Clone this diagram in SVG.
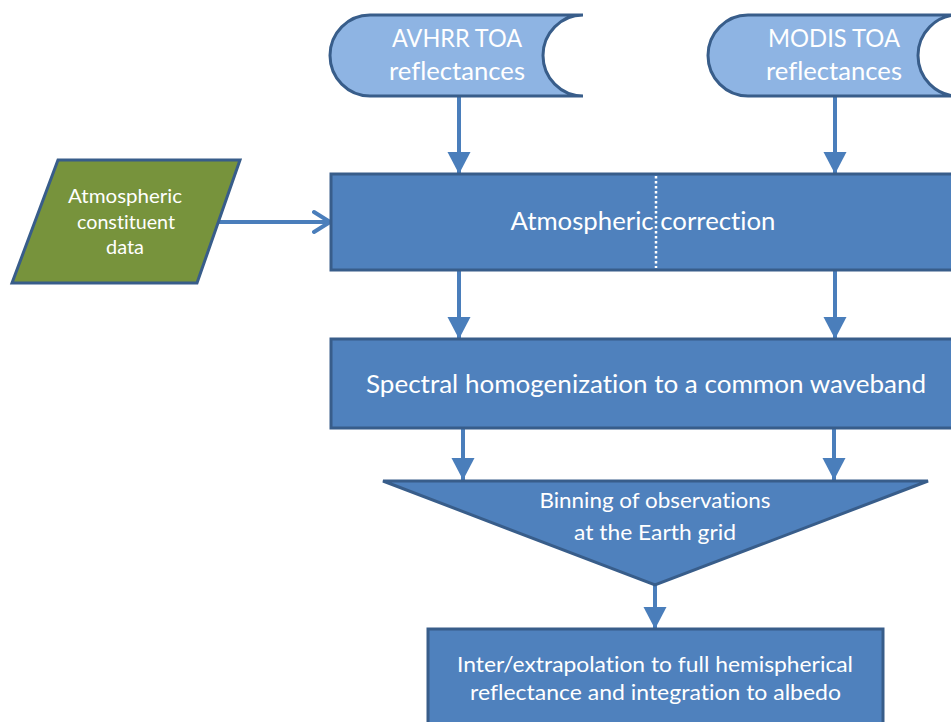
<svg xmlns="http://www.w3.org/2000/svg" width="951" height="722" viewBox="0 0 951 722">
<style>
.box{fill:#4f81bd;stroke:#385d8a;stroke-width:3}
.store{fill:#8eb4e3;stroke:#385d8a;stroke-width:3}
.para{fill:#77933c;stroke:#385d8a;stroke-width:3}
.t{font-family:Lato,"Liberation Sans",sans-serif;fill:#ffffff;text-anchor:middle;font-variant-ligatures:none}
.conn{stroke:#4a7ebb;stroke-width:4;fill:none}
</style>
<defs>
<marker id="tri" markerUnits="userSpaceOnUse" markerWidth="24" markerHeight="24" refX="22" refY="11.5" orient="auto">
<path d="M0,0 L22,11.5 L0,23 Z" fill="#4a7ebb"/>
</marker>
<marker id="open" markerUnits="userSpaceOnUse" markerWidth="24" markerHeight="26" refX="18" refY="13" orient="auto">
<path d="M2,3 L18,13 L2,23" fill="none" stroke="#4a7ebb" stroke-width="4" stroke-linecap="round" stroke-linejoin="round"/>
</marker>
</defs>
<rect width="951" height="722" fill="#ffffff"/>
<g id="connectors">
<line class="conn" x1="459" y1="96" x2="459" y2="174" marker-end="url(#tri)"/>
<line class="conn" x1="835" y1="96" x2="835" y2="174" marker-end="url(#tri)"/>
<line class="conn" x1="219" y1="222" x2="330" y2="222" marker-end="url(#open)"/>
<line class="conn" x1="459" y1="271" x2="459" y2="339" marker-end="url(#tri)"/>
<line class="conn" x1="835" y1="271" x2="835" y2="339" marker-end="url(#tri)"/>
<line class="conn" x1="463" y1="429" x2="463" y2="480" marker-end="url(#tri)"/>
<line class="conn" x1="834" y1="429" x2="834" y2="480" marker-end="url(#tri)"/>
<line class="conn" x1="655" y1="584" x2="655" y2="629" marker-end="url(#tri)"/>
</g>
<g id="avhrr">
<path class="store" d="M370,15 H583 A40,40.5 0 0 0 583,96 H370 A40,40.5 0 0 1 370,15 Z"/>
<text class="t" x="457" y="47" font-size="25" textLength="130" lengthAdjust="spacingAndGlyphs">AVHRR TOA</text>
<text class="t" x="457" y="80" font-size="25" textLength="136" lengthAdjust="spacingAndGlyphs">reflectances</text>
</g>
<g id="modis">
<path class="store" d="M748,15 H958 A40,40.5 0 0 0 958,96 H748 A40,40.5 0 0 1 748,15 Z"/>
<text class="t" x="834" y="47" font-size="25" textLength="132" lengthAdjust="spacingAndGlyphs">MODIS TOA</text>
<text class="t" x="834" y="80" font-size="25" textLength="136" lengthAdjust="spacingAndGlyphs">reflectances</text>
</g>
<g id="atmdata">
<polygon class="para" points="58,160 240,160 197,283 12,283"/>
<text class="t" x="125" y="203" font-size="19" textLength="114" lengthAdjust="spacingAndGlyphs">Atmospheric</text>
<text class="t" x="126" y="229" font-size="19" textLength="98" lengthAdjust="spacingAndGlyphs">constituent</text>
<text class="t" x="125" y="254" font-size="19" textLength="38" lengthAdjust="spacingAndGlyphs">data</text>
</g>
<g id="atmcorr">
<rect class="box" x="331" y="174" width="640" height="96"/>
<line x1="656" y1="176" x2="656" y2="268" stroke="#ffffff" stroke-width="2.5" stroke-dasharray="2.5 2.5"/>
<text class="t" x="643" y="230" font-size="25" textLength="265" lengthAdjust="spacingAndGlyphs">Atmospheric correction</text>
</g>
<g id="spectral">
<rect class="box" x="331" y="339" width="640" height="89"/>
<text class="t" x="646" y="393" font-size="25" textLength="560" lengthAdjust="spacingAndGlyphs">Spectral homogenization to a common waveband</text>
</g>
<g id="binning">
<polygon class="box" points="383,481 928,481 655,585"/>
<text class="t" x="655" y="508" font-size="21" textLength="231" lengthAdjust="spacingAndGlyphs">Binning of observations</text>
<text class="t" x="655" y="540" font-size="21" textLength="162" lengthAdjust="spacingAndGlyphs">at the Earth grid</text>
</g>
<g id="interp">
<rect class="box" x="428" y="629" width="455" height="110"/>
<text class="t" x="655" y="672" font-size="22" textLength="396" lengthAdjust="spacingAndGlyphs">Inter/extrapolation to full hemispherical</text>
<text class="t" x="655.5" y="700" font-size="22" textLength="371" lengthAdjust="spacingAndGlyphs">reflectance and integration to albedo</text>
</g>
</svg>
